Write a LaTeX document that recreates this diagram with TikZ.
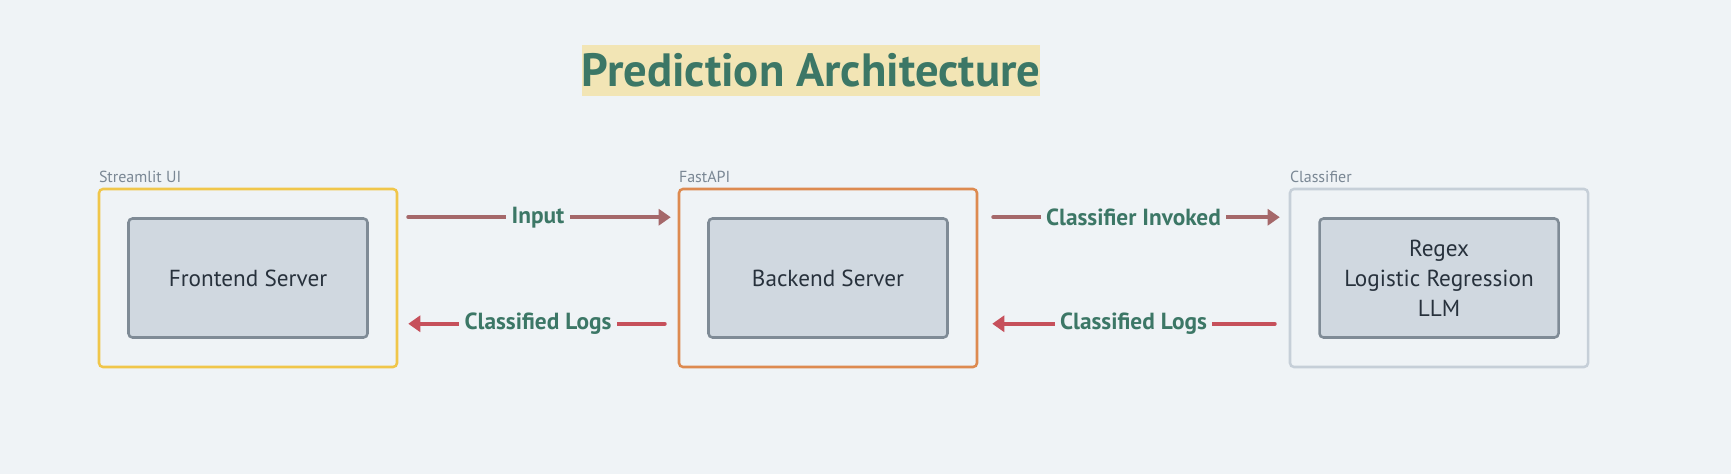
\documentclass[tikz,border=0pt]{standalone}
\usepackage{fontspec}
\setmainfont{PT Sans}
\usetikzlibrary{arrows.meta, calc}
\definecolor{bgc}{HTML}{EFF3F6}
\definecolor{ttlbg}{HTML}{F2E5B5}
\definecolor{grn}{HTML}{3C7766}
\definecolor{yel}{HTML}{F0C64A}
\definecolor{org}{HTML}{DD8A50}
\definecolor{gry}{HTML}{C6CFD8}
\definecolor{srvfill}{HTML}{D0D8E0}
\definecolor{srvline}{HTML}{7F8B96}
\definecolor{srvtext}{HTML}{27313C}
\definecolor{grptext}{HTML}{7A8794}
\definecolor{fwd}{HTML}{A5686A}
\definecolor{bck}{HTML}{C6505B}
\tikzset{%
    grp/.style={draw, line width=1.9pt, rounded corners=3pt, minimum width=223.5pt, minimum height=133.5pt},
    grpl/.style={anchor=base west, inner sep=0pt, text=grptext, font=\fontsize{12}{14}\selectfont},
    srv/.style={draw=srvline, fill=srvfill, line width=1.9pt, rounded corners=3pt, minimum width=179.25pt, minimum height=89.25pt, align=center, text=srvtext, font=\fontsize{17.4}{22.5}\selectfont},
    flw/.style={line width=3pt, line cap=round, draw=fwd, -{Triangle[length=9pt, width=12pt]}},
    flwb/.style={line width=3pt, line cap=round, draw=bck, -{Triangle[length=9pt, width=12pt]}},
    lbl/.style={fill=bgc, text=grn, inner xsep=4pt, inner ysep=1pt, font=\fontsize{17.5}{20}\selectfont\bfseries},
}
\begin{document}
\begin{tikzpicture}[x=0.75pt, y=-0.75pt]
    \fill [bgc] (0,0) rectangle (1731,474);
    \node [fill=ttlbg, text=grn, inner sep=0pt, minimum width=343.5pt, minimum height=38.25pt, font=\fontsize{35}{38}\selectfont\bfseries] (title) at (811,70.5) {Prediction Architecture};

    \node [grp, draw=yel] (ui) at (248,278) {};
    \node [grp, draw=org] (api) at (828,278) {};
    \node [grp, draw=gry] (cls) at (1439,278) {};
    \node [grpl] at ($(ui.north west)+(1,-5)$) {Streamlit UI};
    \node [grpl] at ($(api.north west)+(1,-5)$) {FastAPI};
    \node [grpl] at ($(cls.north west)+(1,-5)$) {Classifier};

    \node [srv] (front) at (ui.center) {Frontend Server};
    \node [srv] (back) at (api.center) {Backend Server};
    \node [srv] (model) at (cls.center) {Regex\\Logistic Regression\\LLM};

    \draw [flw, shorten <=7.5pt, shorten >=5.25pt] (ui.east |- front.north) -- (api.west |- back.north) node [lbl, midway] {Input};
    \draw [flwb, shorten <=9.75pt, shorten >=7.5pt] ($(api.west |- back.south)+(0,-15)$) -- ($(ui.east |- front.south)+(0,-15)$) node [lbl, midway] {Classified Logs};
    \draw [flw, shorten <=11.25pt, shorten >=6.75pt] (api.east |- back.north) -- (cls.west |- model.north) node [lbl, midway] {Classifier Invoked};
    \draw [flwb, shorten <=10.5pt, shorten >=10.5pt] ($(cls.west |- model.south)+(0,-15)$) -- ($(api.east |- back.south)+(0,-15)$) node [lbl, midway] {Classified Logs};
\end{tikzpicture}
\end{document}
